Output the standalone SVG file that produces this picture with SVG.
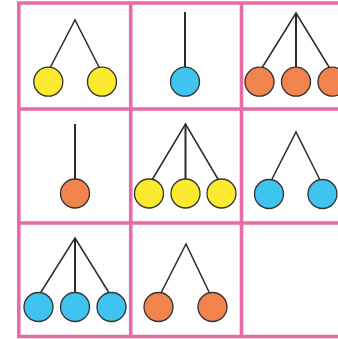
<svg xmlns="http://www.w3.org/2000/svg" width="338" height="339" viewBox="0 0 338 339">
<style>
.grid{fill:none;stroke:#e66ba7;stroke-width:3.6}
.ln{stroke:#2b2b2b;stroke-width:1.5;fill:none;stroke-linecap:round}
.vln{stroke:#2b2b2b;stroke-width:2;fill:none}
.c{stroke:#333;stroke-width:1.3}
.y{fill:#fbea2d}
.b{fill:#3fc4f0}
.o{fill:#f1834e}
</style>
<rect width="338" height="339" fill="#fff"/>
<g id="grid">
<path class="grid" d="M352 3H18.8V336.5H352M130.7 3V336.5M241.5 3V336.5M18.8 109H352M18.8 223H352"/>
</g>
<g id="connectors">
<path class="ln" d="M50 68L75 20L99.5 68"/>
<path class="vln" d="M185 12V67"/>
<path class="ln" d="M262.5 67L296 13L329 67"/>
<path class="vln" d="M296 13V67"/>
<path class="vln" d="M75 124V179"/>
<path class="ln" d="M152 180L185.5 124L218.5 180"/>
<path class="vln" d="M185.5 124V179"/>
<path class="ln" d="M271.5 180L296 132L320 180"/>
<path class="ln" d="M41 292L75 238L108.5 292"/>
<path class="vln" d="M75 238V293"/>
<path class="ln" d="M161 293L186 244L209.5 293"/>
</g>
<g id="n1"><circle class="c y" cx="48.3" cy="81.7" r="14.5"/><circle class="c y" cx="102" cy="81.7" r="14.5"/></g>
<g id="n2"><circle class="c b" cx="185" cy="81.7" r="14.5"/></g>
<g id="n3"><circle class="c o" cx="259.5" cy="81.7" r="14.5"/><circle class="c o" cx="296" cy="81.7" r="14.5"/><circle class="c o" cx="332.5" cy="81.7" r="14.5"/></g>
<g id="n4"><circle class="c o" cx="75" cy="193.5" r="14.5"/></g>
<g id="n5"><circle class="c y" cx="149" cy="193.5" r="14.5"/><circle class="c y" cx="185.5" cy="193.5" r="14.5"/><circle class="c y" cx="221.5" cy="193.5" r="14.5"/></g>
<g id="n6"><circle class="c b" cx="269" cy="194" r="14.5"/><circle class="c b" cx="322.5" cy="194" r="14.5"/></g>
<g id="n7"><circle class="c b" cx="38.5" cy="307" r="14.5"/><circle class="c b" cx="75" cy="307" r="14.5"/><circle class="c b" cx="111.5" cy="307" r="14.5"/></g>
<g id="n8"><circle class="c o" cx="158.5" cy="307" r="14.5"/><circle class="c o" cx="212.5" cy="307" r="14.5"/></g>
</svg>
